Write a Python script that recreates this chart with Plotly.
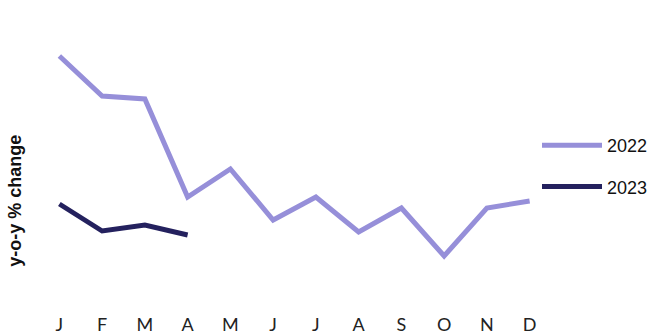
import plotly.graph_objects as go

months = ["J", "F", "M", "A", "M", "J", "J", "A", "S", "O", "N", "D"]
values_2022 = [24.4, 20.4, 20.1, 10.3, 13.1, 8.0, 10.3, 6.8, 9.2, 4.4, 9.2, 9.9]
values_2023 = [9.6, 6.9, 7.5, 6.5]

color_2022 = "#968FD9"
color_2023 = "#24215E"

fig = go.Figure()
fig.add_trace(go.Scatter(
    x=list(range(len(values_2022))), y=values_2022, mode="lines", name="2022",
    line=dict(color=color_2022, width=5), legendgroup="a", cliponaxis=False,
))
fig.add_trace(go.Scatter(
    x=list(range(len(values_2023))), y=values_2023, mode="lines", name="2023",
    line=dict(color=color_2023, width=5), legendgroup="b", cliponaxis=False,
))

fig.update_layout(
    width=656, height=336,
    margin=dict(l=38, r=105, t=30, b=24, autoexpand=False),
    plot_bgcolor="white", paper_bgcolor="white",
    showlegend=True,
    legend=dict(
        xref="container", yref="container",
        x=0.8186, xanchor="left", y=0.622, yanchor="top",
        font=dict(family="Liberation Sans, Arial", size=18, color="#111111"),
        itemwidth=60, tracegroupgap=15, traceorder="grouped",
        bgcolor="rgba(0,0,0,0)",
    ),
    xaxis=dict(
        range=[-0.5, 11.5], tickmode="array",
        tickvals=list(range(12)), ticktext=months, automargin=False,
        showgrid=False, zeroline=False, showline=False, ticks="",
        tickfont=dict(family="Lato", size=18, color="#222222"),
    ),
    yaxis=dict(
        range=[-1.2, 27], showgrid=False, zeroline=False, showline=False,
        showticklabels=False, ticks="", automargin=False,
    ),
    annotations=[dict(
        text="<b>y-o-y % change</b>", textangle=-90,
        xref="paper", yref="paper", x=-0.045, y=0.394,
        xanchor="center", yanchor="middle", showarrow=False,
        font=dict(family="Liberation Sans, Arial", size=18, color="#111111"),
    )],
)

fig.write_html("out.html")
